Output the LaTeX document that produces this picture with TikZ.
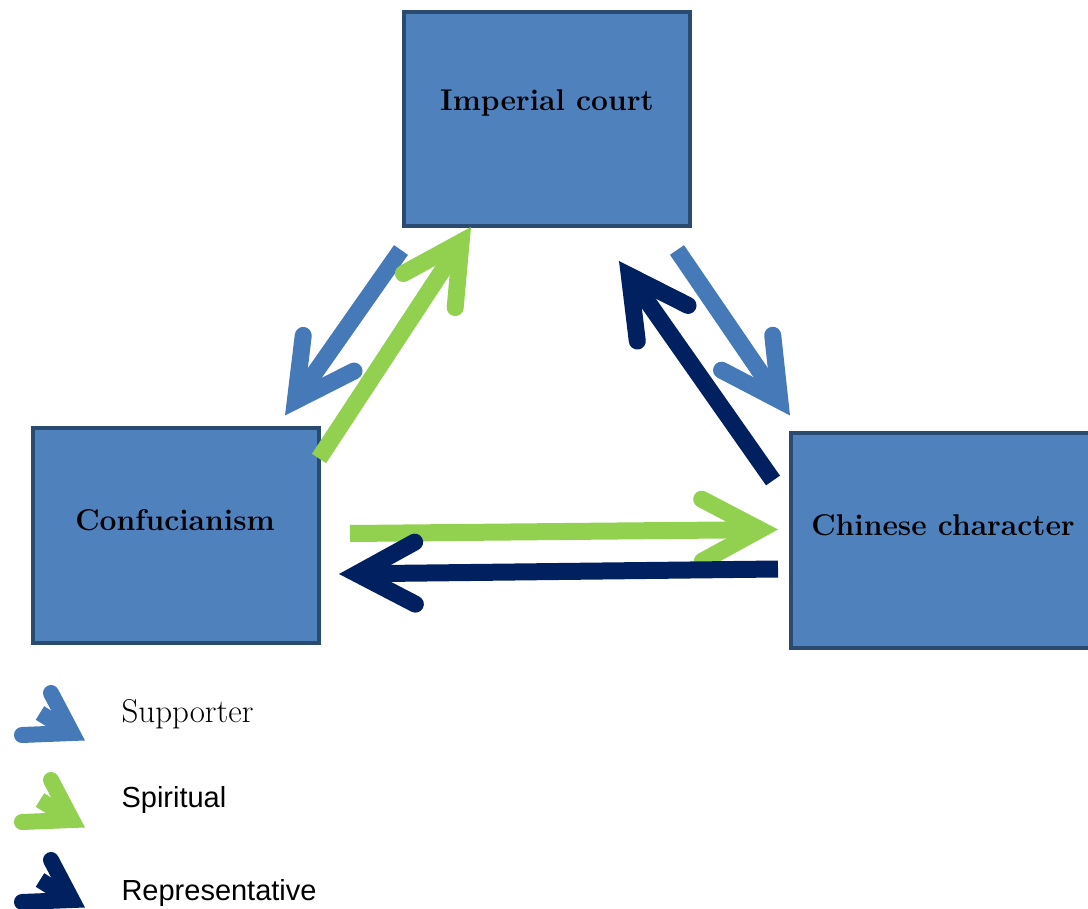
\documentclass[tikz,border=0pt]{standalone}
\usepackage{fontspec}
\usetikzlibrary{arrows.meta,calc}
\newfontfamily\legsans{Liberation Sans}
\definecolor{boxfill}{HTML}{4F81BD}
\definecolor{boxline}{HTML}{2B4A70}
\definecolor{suppblue}{HTML}{4679B8}
\definecolor{spirgreen}{HTML}{92D050}
\definecolor{repnavy}{HTML}{002060}

\begin{document}
\begin{tikzpicture}[x=1pt,y=-1pt,
    box/.style={draw=boxline, fill=boxfill, line width=4pt,
        minimum width=286pt, minimum height=214pt},
    boxtext/.style={font=\fontsize{30}{34}\selectfont\bfseries},
    conn/.style={line width=17pt,
        -{Straight Barb[length=58pt,width=62pt,line cap=round,line join=miter]}},
    barb/.style={line width=16pt, line cap=round, line join=miter}]
    \useasboundingbox (0,0) rectangle (1088,909);

    % the three boxes
    \node[box] (court) at (547,119) {};
    \node[box] (conf) at (176,535.5) {};
    \node[box, minimum width=304pt] (chin) at (943,540.5) {};
    \node[boxtext] (courttxt) at (547,103) {Imperial court};
    \node[boxtext] (conftxt) at (175,520) {Confucianism};
    \node[boxtext] (chintxt) at (943,525) {Chinese character};

    % connectors
    \draw[conn, suppblue] ($(court.south west)+(-1,22)$) -- ($(conf.north east)+(-36,-11)$);
    \draw[conn, spirgreen] ($(conf.north east)+(-2,32)$) -- ($(court.south west)+(69,-1)$);
    \draw[conn, suppblue] ($(court.south east)+(-15,22)$) -- ($(chin.north west)+(1,-16)$);
    \draw[conn, repnavy] ($(chin.north west)+(-16,49)$) -- ($(court.south east)+(-73,33)$);
    \draw[conn, spirgreen] ($(conf.east)+(29,-2)$) -- ($(chin.west)+(-11,-11)$);
    \draw[conn, repnavy] ($(chin.west)+(-11,28.5)$) -- ($(conf.east)+(18,38.5)$);

    % legend
    \foreach \dy/\col in {0/suppblue,87/spirgreen,167/repnavy}
    {
        \draw[line width=16pt, \col] (40,713+\dy) -- (72,733+\dy);
        \draw[barb, \col] (51,693+\dy) -- (72,733+\dy) -- (22,735+\dy);
    }
    \node[anchor=west, font=\fontsize{33}{37}\selectfont] (supp) at (118,714) {Supporter};
    \node[anchor=west, font=\legsans\fontsize{29}{33}\selectfont] (spir) at (118,800) {Spiritual};
    \node[anchor=west, font=\legsans\fontsize{29}{33}\selectfont] (repr) at (118,893) {Representative};
\end{tikzpicture}
\end{document}
